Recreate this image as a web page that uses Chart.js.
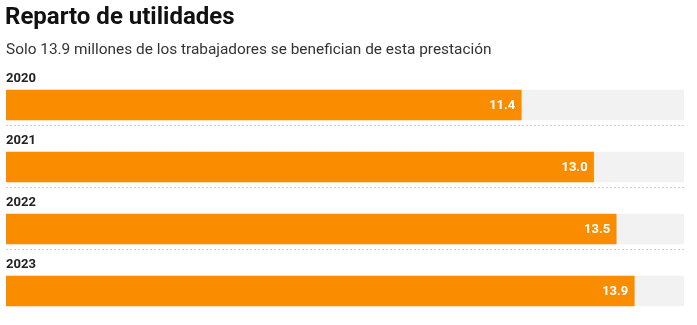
<!DOCTYPE html>
<html>
<head>
<meta charset="utf-8">
<script src="https://cdn.jsdelivr.net/npm/chart.js@4"></script>
<style>
  html, body { margin: 0; padding: 0; background: #fff; }
  #wrap { width: 697px; height: 325px; position: relative; }
</style>
</head>
<body>
<div id="wrap"><canvas id="chart-area"></canvas></div>
<script>
var years = ['2020', '2021', '2022', '2023'];
var workers = [11.4, 13.0, 13.5, 13.9];
var trackMax = [15, 15, 15, 15];

var titleText = 'Reparto de utilidades';
var subtitleText = 'Solo 13.9 millones de los trabajadores se benefician de esta prestación';

// title, year labels, dotted lines and values inside the bars
var decorations = {
    id: 'decorations',
    afterDatasetsDraw: function(chart) {
        var ctx = chart.ctx;
        var area = chart.chartArea;
        var bars = chart.getDatasetMeta(0).data;
        ctx.save();
        ctx.textAlign = 'left';
        ctx.textBaseline = 'alphabetic';
        ctx.fillStyle = '#111';
        ctx.font = 'bold 24px Roboto';
        ctx.fillText(titleText, 5, 24);
        ctx.fillStyle = '#333';
        ctx.font = '15.4px Roboto';
        ctx.fillText(subtitleText, 6, 54);

        bars.forEach(function(bar, i) {
            var top = bar.y - bar.height / 2;
            var bottom = bar.y + bar.height / 2;
            ctx.fillStyle = '#222';
            ctx.font = 'bold 13px Roboto';
            ctx.textAlign = 'left';
            ctx.textBaseline = 'alphabetic';
            ctx.fillText(years[i], area.left, top - 8);

            ctx.fillStyle = '#fff';
            ctx.textAlign = 'right';
            ctx.textBaseline = 'middle';
            ctx.fillText(workers[i].toFixed(1), bar.x - 6, bar.y + 1);

            if (i < bars.length - 1) {
                ctx.strokeStyle = '#cfcfcf';
                ctx.lineWidth = 1;
                ctx.setLineDash([2, 2]);
                ctx.beginPath();
                ctx.moveTo(area.left, Math.round(bottom + 5) + 0.5);
                ctx.lineTo(area.right, Math.round(bottom + 5) + 0.5);
                ctx.stroke();
                ctx.setLineDash([]);
            }
        });
        ctx.restore();
    }
};

var config = {
    type: 'bar',
    data: {
        labels: years,
        datasets: [{
            data: workers,
            backgroundColor: '#fa8c00',
            barThickness: 30,
            grouped: false,
            order: 1
        }, {
            data: trackMax,
            backgroundColor: '#f2f2f2',
            barThickness: 30,
            grouped: false,
            order: 2
        }]
    },
    options: {
        indexAxis: 'y',
        responsive: false,
        animation: false,
        layout: {
            padding: { top: 74, left: 6, right: 13, bottom: 3 }
        },
        scales: {
            x: { display: false, min: 0, max: 15 },
            y: { display: false }
        },
        plugins: {
            legend: { display: false },
            tooltip: { enabled: false }
        }
    },
    plugins: [decorations]
};

window.onload = function() {
    var canvas = document.getElementById('chart-area');
    canvas.width = 697;
    canvas.height = 325;
    var ctx = canvas.getContext('2d');
    window.myBar = new Chart(ctx, config);
};
</script>
</body>
</html>
